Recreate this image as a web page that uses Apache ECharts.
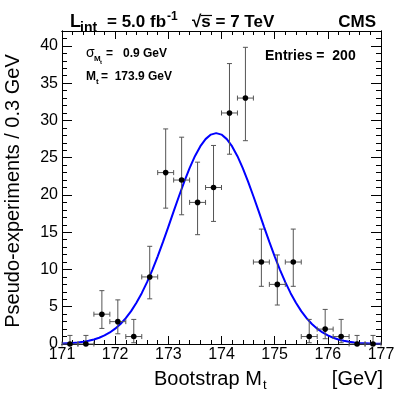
<!DOCTYPE html>
<html>
<head>
<meta charset="utf-8">
<script src="https://cdn.jsdelivr.net/npm/echarts@6/dist/echarts.min.js"></script>
<style>
  html, body { margin: 0; padding: 0; background: #fff; }
  #main { width: 399px; height: 395px; }
</style>
</head>
<body>
<div id="main"></div>
<script>
// bin centres (GeV), 0.3 GeV wide
var binCenters = [171.15, 171.45, 171.75, 172.05, 172.35, 172.65, 172.95, 173.25, 173.55, 173.85,
                  174.15, 174.45, 174.75, 175.05, 175.35, 175.65, 175.95, 176.25, 176.55, 176.85];
var counts    = [0, 0, 4, 3, 1, 9, 23, 22, 19, 21, 31, 33, 11, 8, 11, 1, 2, 1, 0, 0];
var errLow    = [0, 0, 1.91, 1.63, 0.83, 2.94, 4.77, 4.66, 4.33, 4.55, 5.53, 5.72, 3.26, 2.77, 3.26, 0.83, 1.29, 0.83, 0, 0];
var errHigh   = [1.15, 1.15, 3.16, 2.92, 2.30, 4.11, 5.86, 5.75, 5.40, 5.64, 6.63, 6.81, 4.42, 3.95, 4.42, 2.30, 2.64, 2.30, 1.15, 1.15];
var halfBin = 0.15;

// fitted gaussian, every 0.1 GeV
var fitX = [171.0, 171.1, 171.2, 171.3, 171.4, 171.5, 171.6, 171.7, 171.8, 171.9,
            172.0, 172.1, 172.2, 172.3, 172.4, 172.5, 172.6, 172.7, 172.8, 172.9,
            173.0, 173.1, 173.2, 173.3, 173.4, 173.5, 173.6, 173.7, 173.8, 173.9,
            174.0, 174.1, 174.2, 174.3, 174.4, 174.5, 174.6, 174.7, 174.8, 174.9,
            175.0, 175.1, 175.2, 175.3, 175.4, 175.5, 175.6, 175.7, 175.8, 175.9,
            176.0, 176.1, 176.2, 176.3, 176.4, 176.5, 176.6, 176.7, 176.8, 176.9, 177.0];
var fitY = [0.06, 0.10, 0.14, 0.21, 0.30, 0.43, 0.61, 0.84, 1.15, 1.55,
            2.06, 2.69, 3.47, 4.41, 5.53, 6.82, 8.30, 9.95, 11.76, 13.70,
            15.72, 17.79, 19.83, 21.79, 23.60, 25.20, 26.51, 27.49, 28.10, 28.30,
            28.10, 27.49, 26.51, 25.20, 23.60, 21.79, 19.83, 17.79, 15.72, 13.70,
            11.76, 9.95, 8.30, 6.82, 5.53, 4.41, 3.47, 2.69, 2.06, 1.55,
            1.15, 0.84, 0.61, 0.43, 0.30, 0.21, 0.14, 0.10, 0.06, 0.04, 0.03];

var yTicks = [0, 5, 10, 15, 20, 25, 30, 35, 40];

var FONT = 'Liberation Sans';
var chart = echarts.init(document.getElementById('main'), null, {renderer: 'canvas'});

var pts = [];
for (var i = 0; i < binCenters.length; i++) {
    pts.push([binCenters[i], counts[i], errLow[i], errHigh[i]]);
}
var fitData = fitX.map(function (x, i) { return [x, fitY[i]]; });

function renderErr(params, api) {
    var x = api.value(0), y = api.value(1), lo = api.value(2), hi = api.value(3);
    var p = api.coord([x, y]);
    var top = api.coord([x, y + hi]);
    var bot = api.coord([x, y - lo]);
    var l = api.coord([x - halfBin, y]);
    var r = api.coord([x + halfBin, y]);
    var c = 2.5;
    var st = {stroke: '#555', lineWidth: 1};
    var kids = [
        {type: 'line', shape: {x1: p[0], y1: top[1], x2: p[0], y2: bot[1]}, style: st},
        {type: 'line', shape: {x1: p[0] - c, y1: top[1], x2: p[0] + c, y2: top[1]}, style: st},
        {type: 'line', shape: {x1: l[0], y1: p[1], x2: r[0], y2: p[1]}, style: st},
        {type: 'line', shape: {x1: l[0], y1: p[1] - c, x2: l[0], y2: p[1] + c}, style: st},
        {type: 'line', shape: {x1: r[0], y1: p[1] - c, x2: r[0], y2: p[1] + c}, style: st},
        {type: 'circle', shape: {cx: p[0], cy: p[1], r: 2.8}, style: {fill: '#000'}}
    ];
    if (lo > 0) {
        kids.push({type: 'line', shape: {x1: p[0] - c, y1: bot[1], x2: p[0] + c, y2: bot[1]}, style: st});
    }
    return {type: 'group', children: kids};
}

var axLine = {show: true, onZero: false, lineStyle: {color: '#000', width: 1}};

function xAx(pos, interval, len, labels) {
    return {
        type: 'value', position: pos, min: 171, max: 177, interval: interval,
        axisLine: axLine,
        axisTick: {show: true, inside: true, length: len, lineStyle: {color: '#000'}},
        axisLabel: {show: labels, margin: 3, color: '#000', fontFamily: FONT, fontSize: 16,
                    showMinLabel: true, showMaxLabel: true},
        splitLine: {show: false}
    };
}
function yAx(pos, interval, len, labels) {
    return {
        type: 'value', position: pos, min: 0, max: 42, interval: interval,
        axisLine: axLine,
        axisTick: {show: true, inside: true, length: len, lineStyle: {color: '#000'}},
        axisLabel: {show: labels, margin: 4, color: '#000', fontFamily: FONT, fontSize: 16,
                    showMaxLabel: false,
                    formatter: function (v) { return yTicks.indexOf(v) >= 0 ? String(v) : ''; }},
        splitLine: {show: false}
    };
}

var option = {
    backgroundColor: '#fff',
    animation: false,
    grid: {left: 62, right: 18, top: 31, bottom: 51, containLabel: false},
    xAxis: [
        xAx('bottom', 1, 8, true),
        xAx('bottom', 0.2, 4, false),
        xAx('top', 1, 8, false),
        xAx('top', 0.2, 4, false)
    ],
    yAxis: [
        yAx('left', 5, 10, true),
        yAx('left', 1, 5, false),
        yAx('right', 5, 10, false),
        yAx('right', 1, 5, false)
    ],
    series: [
        {
            type: 'line', data: fitData, smooth: false, showSymbol: false,
            lineStyle: {color: '#0000ff', width: 2}, z: 3
        },
        {
            type: 'custom', data: pts, renderItem: renderErr, clip: false, z: 4,
            encode: {x: 0, y: 1}
        }
    ],
    graphic: [
        // header
        {type: 'text', x: 70, y: 31, style: {text: 'L', font: 'bold 18px ' + FONT, fill: '#000', textVerticalAlign: 'bottom'}},
        {type: 'text', x: 80, y: 35, style: {text: 'int', font: 'bold 14px ' + FONT, fill: '#000', textVerticalAlign: 'bottom'}},
        {type: 'text', x: 107, y: 31, style: {text: '= 5.0 fb', font: 'bold 17px ' + FONT, fill: '#000', textVerticalAlign: 'bottom'}},
        {type: 'text', x: 167, y: 23, style: {text: '-1', font: 'bold 12px ' + FONT, fill: '#000', textVerticalAlign: 'bottom'}},
        {type: 'text', x: 192, y: 31, style: {text: '\u221As = 7 TeV', font: 'bold 17px ' + FONT, fill: '#000', textVerticalAlign: 'bottom'}},
        {type: 'line', shape: {x1: 201, y1: 15.5, x2: 212, y2: 15.5}, style: {stroke: '#000', lineWidth: 1.2}},
        {type: 'text', x: 376, y: 31, style: {text: 'CMS', font: 'bold 17px ' + FONT, fill: '#000', textAlign: 'right', textVerticalAlign: 'bottom'}},
        // fit results
        {type: 'text', x: 86, y: 60, style: {text: '\u03C3', font: '14px ' + FONT, fill: '#000', textVerticalAlign: 'bottom'}},
        {type: 'text', x: 94, y: 63, style: {text: 'M', font: 'bold 8px ' + FONT, fill: '#000', textVerticalAlign: 'bottom'}},
        {type: 'text', x: 100, y: 65, style: {text: 't', font: 'bold 6px ' + FONT, fill: '#000', textVerticalAlign: 'bottom'}},
        {type: 'text', x: 106, y: 60, style: {text: '=   0.9 GeV', font: 'bold 12px ' + FONT, fill: '#000', textVerticalAlign: 'bottom'}},
        {type: 'text', x: 86, y: 83, style: {text: 'M', font: 'bold 12px ' + FONT, fill: '#000', textVerticalAlign: 'bottom'}},
        {type: 'text', x: 96, y: 86, style: {text: 't', font: 'bold 8px ' + FONT, fill: '#000', textVerticalAlign: 'bottom'}},
        {type: 'text', x: 101, y: 83, style: {text: '=  173.9 GeV', font: 'bold 12px ' + FONT, fill: '#000', textVerticalAlign: 'bottom'}},
        {type: 'text', x: 265, y: 63, style: {text: 'Entries =  200', font: 'bold 14px ' + FONT, fill: '#000', textVerticalAlign: 'bottom'}},
        // axis titles
        {type: 'text', x: 154, y: 389, style: {text: 'Bootstrap M', font: '20px ' + FONT, fill: '#000', textVerticalAlign: 'bottom'}},
        {type: 'text', x: 263, y: 392, style: {text: 't', font: '13px ' + FONT, fill: '#000', textVerticalAlign: 'bottom'}},
        {type: 'text', x: 383, y: 389, style: {text: '[GeV]', font: '20px ' + FONT, fill: '#000', textAlign: 'right', textVerticalAlign: 'bottom'}},
        {type: 'text', x: 13, y: 191, rotation: Math.PI / 2,
         style: {text: 'Pseudo-experiments / 0.3 GeV', font: '20px ' + FONT, fill: '#000', textAlign: 'center', textVerticalAlign: 'middle'}}
    ]
};
chart.setOption(option);
</script>
</body>
</html>
